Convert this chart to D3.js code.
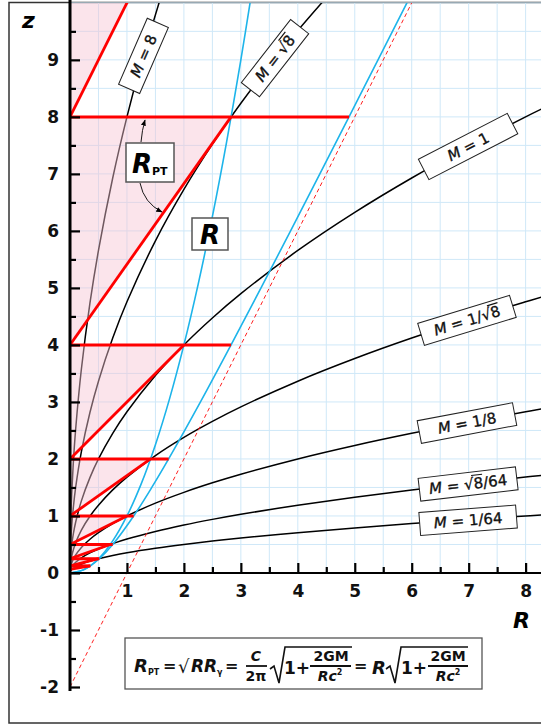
<!DOCTYPE html>
<html>
<head>
<meta charset="utf-8">
<script src="https://cdn.jsdelivr.net/npm/d3@7"></script>
<style>
  body { margin: 0; background: #fff; }
  svg { display: block; }
</style>
</head>
<body>
<svg id="chart"></svg>
<script>
// ---- data ----
const xTicks = [1, 2, 3, 4, 5, 6, 7, 8]
const yTicks = [-2, -1, 0, 1, 2, 3, 4, 5, 6, 7, 8, 9]

// black curves, one R list and one z list each
const rGrid = [0, 0.01, 0.03, 0.06, 0.1, 0.2, 0.35, 0.5, 0.75, 1, 1.5, 2, 2.5, 3, 4, 5, 6, 7, 8, 8.3]
const m8R = [0, 0.01, 0.03, 0.06, 0.1, 0.2, 0.35, 0.5, 0.75, 1, 1.25, 1.6]
const m8Z = [0, 0.8, 1.386, 1.96, 2.53, 3.578, 4.733, 5.657, 6.928, 8, 8.944, 10.119]
const mRt8R = [0, 0.01, 0.03, 0.06, 0.1, 0.2, 0.35, 0.5, 0.75, 1, 1.5, 2, 2.5, 3, 3.5, 4, 4.5]
const mRt8Z = [0, 0.476, 0.824, 1.165, 1.504, 2.127, 2.814, 3.364, 4.12, 4.757, 5.826, 6.727, 7.521, 8.239, 8.899, 9.514, 10.091]
const m1Z = [0, 0.283, 0.49, 0.693, 0.894, 1.265, 1.673, 2, 2.449, 2.828, 3.464, 4, 4.472, 4.899, 5.657, 6.325, 6.928, 7.483, 8, 8.148]
const m1Rt8Z = [0, 0.168, 0.291, 0.412, 0.532, 0.752, 0.995, 1.189, 1.457, 1.682, 2.06, 2.379, 2.659, 2.913, 3.364, 3.761, 4.12, 4.45, 4.757, 4.846]
const m1o8Z = [0, 0.1, 0.173, 0.245, 0.316, 0.447, 0.592, 0.707, 0.866, 1, 1.225, 1.414, 1.581, 1.732, 2, 2.236, 2.449, 2.646, 2.828, 2.881]
const mRt8o64Z = [0, 0.059, 0.103, 0.146, 0.188, 0.266, 0.352, 0.42, 0.515, 0.595, 0.728, 0.841, 0.94, 1.03, 1.189, 1.33, 1.456, 1.573, 1.682, 1.713]
const m1o64Z = [0, 0.035, 0.061, 0.087, 0.112, 0.158, 0.209, 0.25, 0.306, 0.354, 0.433, 0.5, 0.559, 0.612, 0.707, 0.791, 0.866, 0.935, 1, 1.019]

// blue curves
const innerR = [0, 0.25, 0.5, 0.75, 1, 1.25, 1.5, 1.75, 2, 2.25, 2.5, 2.75, 3, 3.2]
const innerZ = [0, 0.0625, 0.25, 0.5625, 1, 1.5625, 2.25, 3.0625, 4, 5.0625, 6.25, 7.5625, 9, 10.24]
const outerR = [0, 0.225, 0.359, 0.515, 0.75, 1.118, 1.436, 1.732, 2.291, 2.828, 3.354, 3.873, 4.387, 4.899, 5.408, 6.018]
const outerZ = [0, 0.05, 0.125, 0.25, 0.5, 1, 1.5, 2, 3, 4, 5, 6, 7, 8, 9, 10.2]

// dashed asymptote
const asymR = [0, 6.1]
const asymZ = [-2, 10.2]

// red zigzag
const levels = [16, 8, 4, 2, 1, 0.5, 0.25, 0.125]
const diagStartZ = [8, 4, 2, 1, 0.5, 0.25, 0.125, 0.0625]
const diagEndR = [4, 2.828, 2, 1.414, 1, 0.707, 0.5, 0.354]
const horizEndR = [0, 4.899, 2.828, 1.732, 1.118, 0.75, 0.515, 0.359]

// curve labels
const labelText = ['M = 8', 'M = √8', 'M = 1', 'M = 1/√8', 'M = 1/8', 'M = √8/64', 'M = 1/64']
const labelR = [1.29, 3.6, 6.99, 6.97, 6.97, 6.99, 6.99]
const labelZ = [9.07, 9.03, 7.48, 4.43, 2.63, 1.56, 0.925]
const labelAngle = [-66.5, -52, -27.3, -17, -10.7, -6.7, -4.4]
const labelW = [72, 80, 100, 96, 97, 98, 97]

const FONT = '"DejaVu Sans", sans-serif'
const W = 541, H = 726

const svg = d3.select('#chart').attr('width', W).attr('height', H)
  .attr('font-family', FONT)

const x = d3.scaleLinear().domain([0, 8.27]).range([70, 541])
const y = d3.scaleLinear().domain([-2, 10.05]).range([687, 0])

const defs = svg.append('defs')
defs.append('clipPath').attr('id', 'plotClip').append('rect')
  .attr('x', x(0)).attr('y', 3).attr('width', W - x(0)).attr('height', y(0) - 3)
defs.append('clipPath').attr('id', 'rightClip').append('rect')
  .attr('x', x(0)).attr('y', 3).attr('width', W - x(0)).attr('height', H)
defs.append('marker').attr('id', 'arrow')
  .attr('viewBox', '0 0 10 10').attr('refX', 9).attr('refY', 5)
  .attr('markerWidth', 7).attr('markerHeight', 7).attr('orient', 'auto')
  .append('path').attr('d', 'M0,1 L10,5 L0,9 Z').attr('fill', '#000')

// outer frame
svg.append('rect')
  .attr('x', 9).attr('y', 2.5).attr('width', 560).attr('height', 720.5)
  .attr('fill', 'none').attr('stroke', '#333').attr('stroke-width', 1.5)

// grid
const grid = svg.append('g').attr('stroke', '#cfe8f8').attr('stroke-width', 1)
grid.selectAll('.gv').data(d3.range(0.5, 8.3, 0.5)).enter().append('line')
  .attr('x1', d => x(d)).attr('x2', d => x(d)).attr('y1', y(0)).attr('y2', 3)
grid.selectAll('.gh').data(d3.range(0.5, 10.1, 0.5)).enter().append('line')
  .attr('x1', x(0)).attr('x2', W).attr('y1', d => y(d)).attr('y2', d => y(d))

const line = d3.line()
  .x(d => x(d[0])).y(d => y(d[1]))
  .curve(d3.curveCatmullRom.alpha(0.5))
const zip = (a, b) => a.map((v, i) => [v, b[i]])

const plot = svg.append('g').attr('clip-path', 'url(#plotClip)')

const blackCurves = [
  zip(m8R, m8Z), zip(mRt8R, mRt8Z), zip(rGrid, m1Z), zip(rGrid, m1Rt8Z),
  zip(rGrid, m1o8Z), zip(rGrid, mRt8o64Z), zip(rGrid, m1o64Z)
]
plot.selectAll('.mcurve').data(blackCurves).enter().append('path')
  .attr('class', 'mcurve')
  .attr('d', line)
  .attr('fill', 'none').attr('stroke', '#000').attr('stroke-width', 1.5)

plot.selectAll('.bcurve').data([zip(innerR, innerZ), zip(outerR, outerZ)]).enter().append('path')
  .attr('class', 'bcurve')
  .attr('d', line)
  .attr('fill', 'none').attr('stroke', '#1db4ea').attr('stroke-width', 1.6)

// pink triangles
const tri = levels.map((z, i) => [[0, diagStartZ[i]], [0, z], [diagEndR[i], z]])
plot.selectAll('.tri').data(tri).enter().append('path')
  .attr('d', d => 'M' + d.map(p => [x(p[0]), y(p[1])].join(',')).join('L') + 'Z')
  .attr('fill', '#f7c4d3').attr('fill-opacity', 0.45)

// dashed asymptote
svg.append('g').attr('clip-path', 'url(#rightClip)').append('path')
  .attr('d', d3.line().x(d => x(d[0])).y(d => y(d[1]))(zip(asymR, asymZ)))
  .attr('fill', 'none').attr('stroke', '#ff2020').attr('stroke-width', 1)
  .attr('stroke-dasharray', '4,3')

// red zigzag
plot.selectAll('.diag').data(levels).enter().append('line')
  .attr('x1', x(0)).attr('y1', (d, i) => y(diagStartZ[i]))
  .attr('x2', (d, i) => x(diagEndR[i])).attr('y2', d => y(d))
  .attr('stroke', '#ff0000').attr('stroke-width', 2.8)
plot.selectAll('.hor').data(levels.filter(d => d < 10)).enter().append('line')
  .attr('x1', x(0)).attr('y1', d => y(d))
  .attr('x2', d => x(horizEndR[levels.indexOf(d)])).attr('y2', d => y(d))
  .attr('stroke', '#ff0000').attr('stroke-width', 3)

// axes
const gy = svg.append('g').attr('transform', `translate(${x(0)},0)`)
  .call(d3.axisLeft(y).tickValues(yTicks).tickFormat(d => String(d))
    .tickSizeInner(-10).tickSizeOuter(0).tickPadding(11))
gy.select('.domain').remove()
const gy2 = svg.append('g').attr('transform', `translate(${x(0)},0)`)
  .call(d3.axisLeft(y).tickValues(d3.range(-1.5, 10, 1)).tickFormat('')
    .tickSizeInner(-6).tickSizeOuter(0))
gy2.select('.domain').remove()

const gx = svg.append('g').attr('transform', `translate(0,${y(0)})`)
  .call(d3.axisBottom(x).tickValues(xTicks).tickSizeInner(-10).tickSizeOuter(0).tickPadding(12))
gx.select('.domain').remove()
const gx2 = svg.append('g').attr('transform', `translate(0,${y(0)})`)
  .call(d3.axisBottom(x).tickValues(d3.range(0.5, 8, 1)).tickFormat('').tickSizeInner(-6).tickSizeOuter(0))
gx2.select('.domain').remove()

svg.selectAll('.tick line').attr('stroke', '#000').attr('stroke-width', 2.2)
svg.selectAll('.tick text')
  .attr('font-family', FONT).attr('font-size', 17).attr('font-weight', 700).attr('fill', '#111')

svg.append('line').attr('x1', x(0)).attr('x2', W).attr('y1', y(0)).attr('y2', y(0))
  .attr('stroke', '#000').attr('stroke-width', 2)
svg.append('line').attr('x1', x(0)).attr('x2', x(0)).attr('y1', 0).attr('y2', 691)
  .attr('stroke', '#000').attr('stroke-width', 3)

svg.append('text').attr('x', 22).attr('y', 28).text('z')
  .attr('font-size', 22).attr('font-weight', 700).attr('font-style', 'italic')
svg.append('text').attr('x', 513).attr('y', 628).text('R')
  .attr('font-size', 22).attr('font-weight', 700).attr('font-style', 'italic')

// curve labels
labelText.forEach((t, i) => {
  const fs = 15
  const g = svg.append('g')
    .attr('transform', `translate(${x(labelR[i])},${y(labelZ[i])}) rotate(${labelAngle[i]})`)
  g.append('rect').attr('x', -labelW[i] / 2).attr('y', -11.5).attr('width', labelW[i]).attr('height', 23)
    .attr('fill', '#fff').attr('stroke', '#222').attr('stroke-width', 1)
  const txt = g.append('text').attr('text-anchor', 'middle').attr('y', fs * 0.36)
    .attr('font-size', fs).attr('fill', '#111')
    .attr('stroke', '#111').attr('stroke-width', 0.35)
  txt.append('tspan').attr('font-style', 'italic').text('M')
  txt.append('tspan').text(t.slice(1))
  const k = t.indexOf('√')
  if (k >= 0) {
    const node = txt.node()
    const a = node.getExtentOfChar(k)
    const b = node.getExtentOfChar(k + 1)
    const oy = fs * 0.36 - fs * 0.9
    g.append('line')
      .attr('x1', a.x + a.width - 1.5).attr('x2', b.x + b.width)
      .attr('y1', oy).attr('y2', oy)
      .attr('stroke', '#111').attr('stroke-width', 1.2)
  }
})

// R_PT and R boxes
svg.append('rect').attr('x', 126).attr('y', 143).attr('width', 48).attr('height', 39)
  .attr('fill', '#fff').attr('stroke', '#555').attr('stroke-width', 1.5)
const rpt = svg.append('text').attr('x', 132).attr('y', 173).attr('font-weight', 700)
rpt.append('tspan').attr('font-size', 26).attr('font-style', 'italic').text('R')
rpt.append('tspan').attr('font-size', 11).attr('dy', 2).text('PT')
svg.append('rect').attr('x', 192).attr('y', 218).attr('width', 36).attr('height', 32)
  .attr('fill', '#fff').attr('stroke', '#555').attr('stroke-width', 1.5)
svg.append('text').attr('x', 210).attr('y', 244).attr('text-anchor', 'middle')
  .attr('font-size', 26).attr('font-weight', 700).attr('font-style', 'italic').text('R')

svg.append('path').attr('d', 'M141,142 Q142,130 145,120')
  .attr('fill', 'none').attr('stroke', '#000').attr('stroke-width', 0.9).attr('marker-end', 'url(#arrow)')
svg.append('path').attr('d', 'M140,183 Q144,203 162,212')
  .attr('fill', 'none').attr('stroke', '#000').attr('stroke-width', 0.9).attr('marker-end', 'url(#arrow)')

// formula box
svg.append('rect').attr('x', 125).attr('y', 638).attr('width', 357).attr('height', 51)
  .attr('fill', '#fff').attr('stroke', '#555').attr('stroke-width', 1.3)
const f = svg.append('g').attr('font-weight', 700).attr('fill', '#111')
const put = (s, px, py, fs, opts = {}) => f.append('text').attr('x', px).attr('y', py)
  .attr('font-size', fs).attr('font-style', opts.it ? 'italic' : 'normal')
  .attr('text-anchor', opts.mid ? 'middle' : 'start').text(s)
const rule = (x1, x2, yy) => f.append('line').attr('x1', x1).attr('x2', x2).attr('y1', yy).attr('y2', yy)
  .attr('stroke', '#111').attr('stroke-width', 1.8)
const radical = (x0, x1) => f.append('path')
  .attr('d', `M${x0},669 L${x0 + 4},666 L${x0 + 9},683 L${x0 + 15},647 L${x1},647`)
  .attr('fill', 'none').attr('stroke', '#111').attr('stroke-width', 1.6)
const rc2 = (cx) => {
  const t = f.append('text').attr('x', cx).attr('y', 681).attr('font-size', 14).attr('text-anchor', 'middle')
  t.append('tspan').attr('font-style', 'italic').text('Rc')
  t.append('tspan').attr('font-size', 8).attr('dy', -6).text('2')
}
put('R', 134, 672, 18, { it: true })
put('PT', 148, 675, 8)
put('=', 163, 671, 16)
put('√', 178, 673, 18).attr('font-weight', 400)
put('RR', 191, 672, 17, { it: true })
put('γ', 217, 675, 8)
put('=', 225, 671, 16)
put('C', 256, 661, 14, { it: true, mid: true })
rule(246, 267, 666)
put('2π', 256, 681, 14, { mid: true })
radical(270, 352)
put('1+', 284, 674, 17)
put('2GM', 331, 661, 14, { mid: true })
rule(310, 351, 666)
rc2(330)
put('=', 354, 671, 16)
put('R', 372, 674, 18, { it: true })
radical(386, 468)
put('1+', 401, 674, 17)
put('2GM', 448, 661, 14, { mid: true })
rule(428, 468, 666)
rc2(448)
</script>
</body>
</html>
